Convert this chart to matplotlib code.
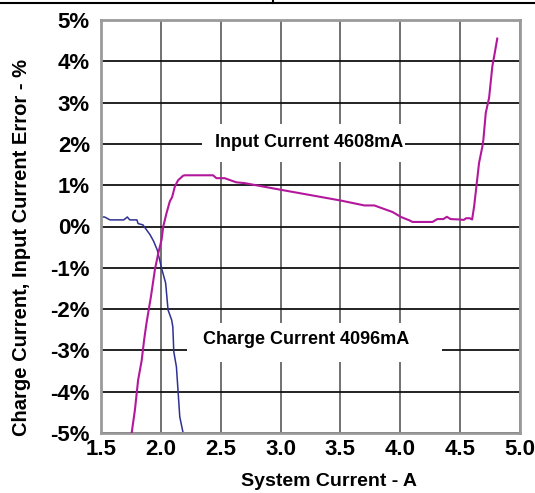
import matplotlib
matplotlib.use("Agg")
import matplotlib.pyplot as plt
from matplotlib.patches import Rectangle
from matplotlib.lines import Line2D

plt.rcParams['font.family'] = ['Liberation Sans', 'DejaVu Sans']
plt.rcParams['font.weight'] = 'bold'

# charge current error (blue)
charge_x = [1.50, 1.53, 1.575, 1.69, 1.72, 1.74, 1.80, 1.81, 1.85, 1.87, 1.91, 1.94,
            1.97, 1.99, 2.006, 2.04, 2.06, 2.09, 2.10, 2.108, 2.13, 2.144, 2.158, 2.186]
charge_y = [0.23, 0.23, 0.16, 0.16, 0.23, 0.16, 0.16, 0.07, 0.04, -0.04, -0.20, -0.36,
            -0.57, -0.81, -1.01, -1.37, -2.02, -2.26, -2.43, -3.03, -3.40, -4.00, -4.61, -5.00]

# input current error (magenta)
input_x = [1.756, 1.783, 1.81, 1.84, 1.86, 1.88, 1.903, 1.917, 1.95, 1.978, 2.006, 2.02,
           2.047, 2.075, 2.094, 2.117, 2.144, 2.186, 2.20, 2.436, 2.464, 2.533, 2.63, 2.70,
           3.0, 3.5, 3.70, 3.783, 3.936, 4.006, 4.075, 4.103, 4.269, 4.31, 4.36, 4.389,
           4.42, 4.49, 4.53, 4.55, 4.58, 4.60, 4.617, 4.658, 4.686, 4.694, 4.714, 4.742,
           4.769, 4.789, 4.81]
input_y = [-5.0, -4.45, -3.72, -3.24, -2.75, -2.34, -1.94, -1.70, -1.05, -0.65, -0.32, 0.0,
           0.32, 0.61, 0.71, 0.97, 1.12, 1.23, 1.24, 1.24, 1.17, 1.17, 1.07, 1.05,
           0.89, 0.63, 0.51, 0.51, 0.35, 0.23, 0.15, 0.11, 0.11, 0.18, 0.18, 0.235,
           0.18, 0.17, 0.16, 0.20, 0.20, 0.17, 0.49, 1.54, 1.94, 2.10, 2.75, 3.12,
           3.88, 4.20, 4.55]

x_ticks = [1.5, 2.0, 2.5, 3.0, 3.5, 4.0, 4.5, 5.0]
y_ticks = [-5, -4, -3, -2, -1, 0, 1, 2, 3, 4, 5]

fig = plt.figure(figsize=(5.35, 4.93), dpi=100)
W, H = 535, 493
ax = fig.add_axes([101 / W, 1 - 433 / H, 419 / W, 413 / H])

ax.set_xlim(1.5, 5.0)
ax.set_ylim(-5, 5)
ax.set_xticks(x_ticks)
ax.set_xticklabels([f"{v:.1f}" for v in x_ticks])
ax.set_yticks(y_ticks)
ax.set_yticklabels([f"{v}%" for v in y_ticks])
ax.tick_params(axis='y', length=0, labelsize=16, pad=8)
ax.tick_params(axis='x', length=0, labelsize=16, pad=4)

ax.set_axisbelow(True)
ax.grid(axis='x', color='#666666', lw=1.3)
ax.grid(axis='y', color='#111111', lw=1.3)
for s in ax.spines.values():
    s.set_color('#9a9a9a')
    s.set_linewidth(2)

# white boxes behind the labels
ax.add_patch(Rectangle((2.342, 1.57), 1.70, 0.90, facecolor='white', edgecolor='none', zorder=1))
ax.add_patch(Rectangle((2.217, -3.29), 2.133, 0.95, facecolor='white', edgecolor='none', zorder=1))

ax.plot(charge_x, charge_y, color='#2e3192', lw=1.1, zorder=2)
ax.plot(input_x, input_y, color='#b3189c', lw=1.5, zorder=3)

ax.text(309 / W, 1 - 143 / H, "Input Current 4608mA", fontsize=13, ha='center', va='center',
        transform=fig.transFigure, zorder=4)
ax.text(306 / W, 1 - 339 / H, "Charge Current 4096mA", fontsize=13, ha='center', va='center',
        transform=fig.transFigure, zorder=4)

fig.text(22 / W, 1 - 247 / H, "Charge Current, Input Current Error - %", rotation=90,
         ha='center', va='center', fontsize=14.5)
fig.text(329 / W, 1 - 482 / H, "System Current - A", ha='center', va='center', fontsize=14)

# table border fragment at the top
fig.add_artist(Line2D([0, 1], [1 - 2.7 / H, 1 - 2.7 / H], transform=fig.transFigure,
                      color='black', lw=1.5))
fig.add_artist(Line2D([273 / W, 273 / W], [1, 1 - 2.7 / H], transform=fig.transFigure,
                      color='black', lw=1.5))

fig.savefig("out.png", dpi=100)
